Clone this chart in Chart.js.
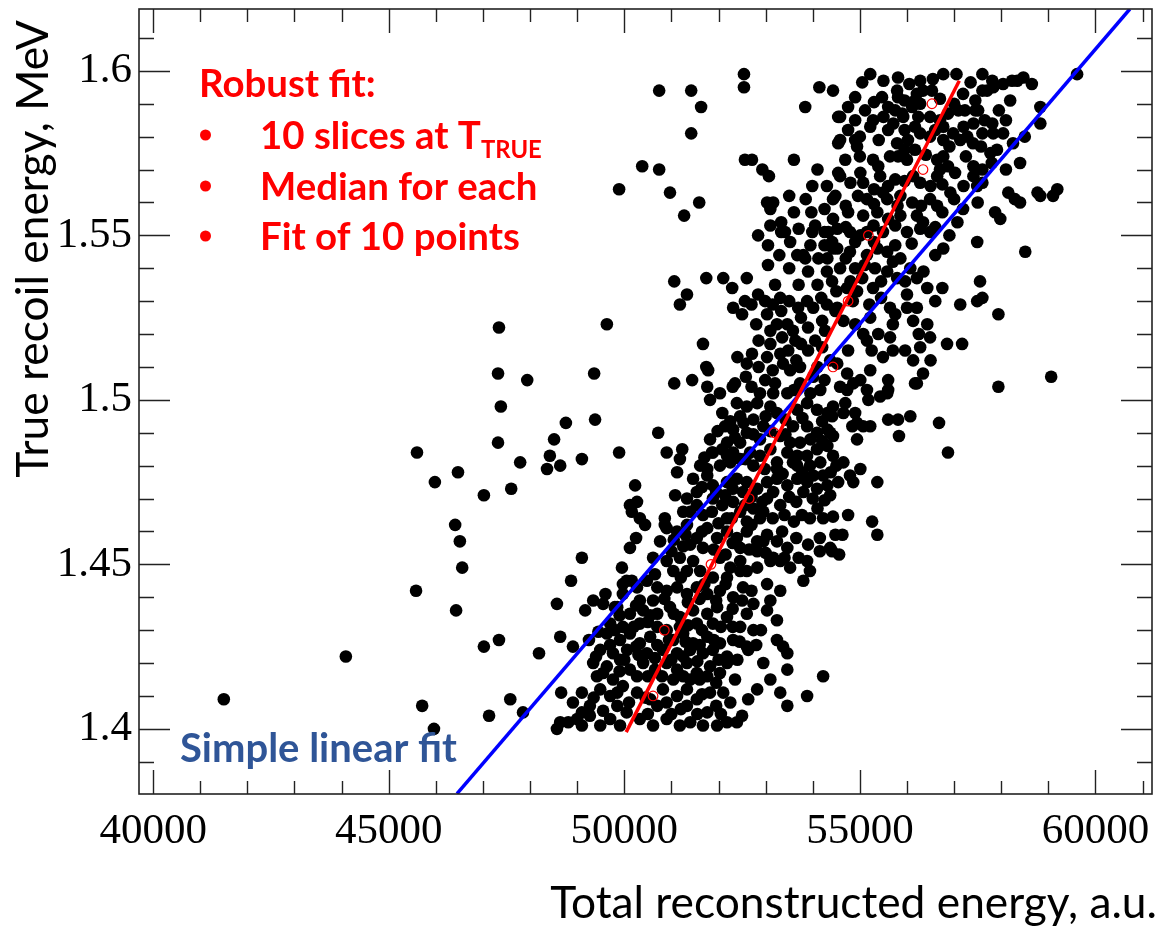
<!DOCTYPE html>
<html lang="en">
<head>
    <meta charset="UTF-8">
    <title>Robust fit vs simple linear fit</title>
    <script src="https://cdn.jsdelivr.net/npm/chart.js"></script>
    <style>
        body { margin: 0; background: #fff; }
        .chart-container { width: 1166px; height: 932px; position: relative; }
    </style>
</head>
<body>
    <div class="chart-container">
        <canvas id="fitChart"></canvas>
    </div>

    <script>
        // Axis ticks (labelled values)
        const xTickValues = [40000, 45000, 50000, 55000, 60000];
        const yTickValues = [1.4, 1.45, 1.5, 1.55, 1.6];

        // Fit lines: [x, y] end points
        const simpleFitX = [46450, 60730];
        const simpleFitY = [1.3803, 1.6188];
        const robustFitX = [50040, 57110];
        const robustFitY = [1.399, 1.597];

        // Medians of the 10 T_TRUE slices
        const medianX = [50610, 50850, 51840, 52650, 53180, 54430, 54750, 55180, 56340, 56530];
        const medianY = [1.41, 1.43, 1.45, 1.47, 1.49, 1.51, 1.53, 1.55, 1.57, 1.59];

        // Events [reconstructed energy, true recoil energy]
        const outlierEvents = [
            [47340,1.522],[47320,1.508],[47940,1.506],[47380,1.498],[47320,1.487],[45600,1.484],[45980,1.475],[46470,1.478],
            [47020,1.471],[47600,1.473],[47790,1.481],[48510,1.488],[48420,1.483],[48360,1.479],[48640,1.480],[46410,1.462],
            [46510,1.457],[46560,1.449],[45580,1.442],[46430,1.436],[44090,1.422],[47020,1.425],[47340,1.427],[48190,1.423],
            [48570,1.438],[48640,1.428],[41500,1.409],[45710,1.407],[45960,1.400],[47130,1.404],[47580,1.409],[47850,1.405],
            [48570,1.400],[48660,1.411],[48760,1.493],[49380,1.494],[49100,1.482],[49890,1.484],[50720,1.490],[48870,1.445],
            [49340,1.439],[49170,1.436],[49800,1.437],[48910,1.425],[49250,1.427],[49100,1.411],[48910,1.408],[48810,1.402],
            [49100,1.401],[49950,1.449],[49970,1.444],[50160,1.445],[50120,1.455],[50250,1.458],[50760,1.457],[50230,1.474],
            [51080,1.471],[50120,1.468],[50270,1.469],[50160,1.466],[50330,1.464],[50440,1.462],[50860,1.464],[50860,1.462],
            [50900,1.484],[51230,1.485],[51180,1.482],[51120,1.478],[51860,1.484],[49100,1.452]
        ];
        const upperLeftEvents = [
            [50740,1.594],[51420,1.594],[52540,1.599],[52540,1.595],[51630,1.589],[51420,1.581],[54140,1.595],[54430,1.594],
            [53840,1.589],[54540,1.586],[54540,1.578],[52560,1.573],[52710,1.573],[50380,1.571],[50740,1.570],[49890,1.564],
            [50970,1.563],[51590,1.560],[51270,1.556],[52930,1.570],[53070,1.568],[53990,1.565],[54540,1.569],[54430,1.561],
            [53030,1.560],[53160,1.560],[53100,1.558],[53970,1.557],[53330,1.554],[54430,1.555],[54050,1.553],[53990,1.551],
            [52840,1.550],[53330,1.551],[53410,1.551],[53520,1.548],[54330,1.551],[54410,1.548],[54430,1.546],[53290,1.544],
            [53670,1.544],[53800,1.544],[53840,1.543],[54120,1.543],[54310,1.543],[51060,1.536],[51740,1.537],[52100,1.537],
            [52290,1.534],[51330,1.532],[51180,1.529],[54410,1.536],[54500,1.533],[52840,1.532],[52560,1.530],[52310,1.528],
            [52500,1.526],[52990,1.530],[53310,1.531],[53330,1.527],[53690,1.528],[53880,1.530],[54010,1.528],[54180,1.531],
            [53030,1.526],[53240,1.523],[53460,1.523],[53580,1.521],[53900,1.522],[54050,1.518],[49630,1.523],[51670,1.517],
            [52710,1.514],[53100,1.517],[53030,1.513],[53310,1.514],[53480,1.515],[53750,1.517],[52600,1.511],[51740,1.510],
            [51780,1.509],[49360,1.508],[51060,1.505],[51440,1.506],[51760,1.504],[52580,1.507],[52990,1.506],[53370,1.511],
            [53520,1.509],[53730,1.510],[54010,1.507],[53160,1.502],[53460,1.502],[53730,1.505],[54160,1.503],[54370,1.512],
            [54260,1.521],[54480,1.527],[53630,1.518],[52880,1.502],[52030,1.502],[52350,1.505]
        ];
        const upperRightEvents = [
            [55220,1.599],[55810,1.598],[56280,1.597],[56770,1.599],[57050,1.599],[57600,1.599],[57810,1.597],[58040,1.596],
            [58230,1.597],[58470,1.598],[58340,1.597],[59610,1.599],[55470,1.592],[55790,1.594],[55810,1.592],[56210,1.593],
            [56340,1.594],[56530,1.594],[57190,1.593],[57600,1.594],[57700,1.594],[57830,1.595],[58190,1.591],[54750,1.589],
            [55110,1.588],[55600,1.589],[56170,1.591],[56110,1.589],[56280,1.590],[58830,1.589],[54580,1.586],[55280,1.585],
            [55900,1.587],[55920,1.586],[56240,1.586],[56490,1.586],[56870,1.587],[57090,1.588],[57230,1.588],[57450,1.591],
            [57510,1.588],[57810,1.584],[57410,1.584],[54750,1.582],[55220,1.583],[55600,1.582],[55710,1.584],[56170,1.583],
            [56280,1.581],[56770,1.583],[56980,1.581],[57130,1.579],[57280,1.580],[57600,1.581],[57830,1.581],[58040,1.581],
            [58830,1.584],[54580,1.579],[54900,1.579],[54940,1.577],[55790,1.578],[56020,1.579],[56170,1.576],[56490,1.580],
            [56770,1.579],[57570,1.577],[57910,1.576],[57770,1.575],[58250,1.578],[54690,1.573],[55280,1.573],[55390,1.571],
            [55640,1.574],[55810,1.574],[56000,1.573],[56640,1.573],[56770,1.574],[56870,1.571],[56700,1.570],[57020,1.569],
            [57410,1.571],[57600,1.570],[58400,1.572],[54580,1.568],[55010,1.569],[55070,1.566],[55430,1.568],[55750,1.567],
            [56130,1.568],[56640,1.568],[56920,1.563],[56280,1.566],[54480,1.562],[54960,1.562],[55150,1.561],[55490,1.563],
            [55580,1.561],[55860,1.562],[56110,1.560],[56490,1.561],[57410,1.568],[57600,1.566],[57490,1.565],[58150,1.563],
            [58290,1.561],[58400,1.560],[58770,1.563],[58830,1.562],[59190,1.564],[59100,1.562],[54750,1.557],[55070,1.556],
            [55370,1.557],[55600,1.555],[55860,1.556],[56210,1.556],[56340,1.554],[56640,1.559],[56750,1.557],[57190,1.558],
            [57070,1.554],[57870,1.557],[57980,1.555],[54520,1.552],[54790,1.551],[55010,1.550],[55290,1.553],[55490,1.551],
            [56000,1.551],[56280,1.552],[56490,1.551],[57490,1.548],[58510,1.545],[56770,1.546],[54520,1.546],[54790,1.545],
            [55150,1.544],[55370,1.546],[55580,1.545],[55860,1.543],[56070,1.540],[54580,1.540],[54900,1.540],[55320,1.540],
            [55580,1.539],[55790,1.537],[55960,1.536],[56210,1.537],[56430,1.534],[56750,1.534],[57550,1.536],[57600,1.531],
            [57490,1.530],[57130,1.529],[57940,1.526],[54730,1.534],[55050,1.537],[54940,1.533],[55280,1.534],[55640,1.528],
            [55750,1.526],[56000,1.528],[56130,1.524],[56210,1.528],[56430,1.523],[56850,1.517],[57170,1.517],[56490,1.519],
            [54520,1.528],[54650,1.524],[55220,1.525],[55070,1.520],[55150,1.518],[55390,1.520],[55640,1.519],[54750,1.515],
            [55490,1.513],[55960,1.515],[56130,1.512],[56280,1.516],[56340,1.508],[56170,1.505],[55600,1.506],[55220,1.509],
            [55010,1.506],[54730,1.508],[54520,1.511],[57940,1.504],[59060,1.507],[54580,1.504],[55150,1.503],[55580,1.502]
        ];
        const middleEvents = [
            [54730,1.503],[54860,1.505],[55180,1.500],[55430,1.501],[55600,1.503],[56210,1.505],[54690,1.499],[54650,1.496],
            [54900,1.496],[54940,1.493],[54840,1.492],[55070,1.492],[55220,1.492],[54940,1.488],[54410,1.495],[54370,1.490],
            [55600,1.494],[55810,1.494],[56070,1.495],[55830,1.489],[56680,1.493],[56870,1.484],[54430,1.483],[54650,1.481],
            [55010,1.479],[54790,1.477],[54860,1.475],[54540,1.475],[54370,1.471],[55370,1.475],[54750,1.465],[55260,1.463],
            [54480,1.459],[54630,1.459],[55370,1.459],[54410,1.454],[54560,1.453]
        ];
        const lowerEvents = [
            [51820,1.500],[52390,1.499],[52600,1.498],[52820,1.499],[53100,1.498],[53240,1.496],[53670,1.497],[53880,1.499],
            [54090,1.497],[54310,1.496],[54430,1.498],[52080,1.496],[52460,1.495],[52740,1.494],[52950,1.492],[52140,1.492],
            [52310,1.491],[52180,1.487],[52600,1.490],[52460,1.487],[52880,1.488],[53580,1.492],[53880,1.492],[54090,1.490],
            [54310,1.491],[54430,1.489],[53310,1.489],[53520,1.487],[53730,1.487],[51820,1.488],[51880,1.484],[52080,1.485],
            [52310,1.484],[52460,1.482],[52670,1.484],[52880,1.483],[53100,1.485],[53240,1.481],[53460,1.484],[53670,1.483],
            [53880,1.483],[54090,1.485],[54310,1.486],[54500,1.480],[54160,1.481],[53940,1.480],[53670,1.480],[53240,1.479],
            [52740,1.480],[52250,1.481],[52030,1.480],[51760,1.479],[51610,1.480],[51460,1.476],[51760,1.477],[51880,1.474],
            [52180,1.475],[52390,1.476],[52600,1.475],[52820,1.473],[53030,1.475],[53240,1.476],[53460,1.474],[53670,1.476],
            [53880,1.475],[54090,1.473],[54310,1.474],[54220,1.477],[51540,1.472],[52140,1.471],[52520,1.472],[53160,1.472],
            [53800,1.472],[53030,1.470],[53310,1.468],[51330,1.470],[51540,1.468],[51250,1.466],[51670,1.465],[51880,1.470],
            [52080,1.468],[52310,1.469],[52460,1.466],[52740,1.467],[52180,1.464],[52600,1.463],[52880,1.464],[53770,1.465],
            [53940,1.464],[54220,1.464],[54370,1.455],[50900,1.461],[51120,1.460],[51330,1.462],[51540,1.458],[51760,1.461],
            [51970,1.458],[52180,1.460],[52390,1.458],[52600,1.460],[52820,1.457],[53030,1.459],[53240,1.457],[53460,1.455],
            [51400,1.456],[51670,1.455],[52460,1.455],[52820,1.454],[53160,1.452],[51180,1.452],[51460,1.451],[52030,1.452],
            [52250,1.449],[52460,1.451],[52600,1.448],[52820,1.449],[53100,1.451],[53310,1.451],[53520,1.449],[53880,1.451],
            [53940,1.448],[53800,1.445],[50900,1.451],[50610,1.452],[51040,1.448],[51330,1.448],[51610,1.448],[51880,1.446],
            [52180,1.446],[52460,1.448],[50480,1.445],[50270,1.443],[50700,1.443],[50900,1.442],[51120,1.443],[51330,1.441],
            [51540,1.443],[51760,1.441],[52030,1.442],[52310,1.440],[52520,1.443],[53030,1.444],[53310,1.442],[53100,1.439],
            [50330,1.439],[50610,1.439],[49970,1.441],[49850,1.437],[50120,1.435],[50400,1.436],[50700,1.435],[50970,1.437],
            [51180,1.434],[51460,1.436],[51760,1.435],[51970,1.437],[52180,1.434],[52600,1.435],[52740,1.438],[53030,1.436],
            [53240,1.433],[49700,1.432],[49970,1.431],[50330,1.432],[50700,1.431],[51180,1.431],[51540,1.432],[51880,1.432],
            [52460,1.431],[52740,1.430],[49630,1.429],[49910,1.427],[50120,1.429],[50330,1.426],[50550,1.428],[51040,1.427],
            [51250,1.429],[51460,1.426],[51760,1.428],[52030,1.426],[52310,1.427],[52600,1.425],[53240,1.427],[53370,1.425],
            [49490,1.424],[49760,1.423],[50060,1.424],[50480,1.423],[50820,1.424],[51120,1.423],[51400,1.424],[51670,1.423],
            [51880,1.424],[52180,1.422],[52630,1.424],[53460,1.423],[49340,1.420],[49630,1.419],[49910,1.421],[50120,1.418],
            [50400,1.420],[50650,1.418],[50900,1.420],[51120,1.418],[51330,1.420],[51540,1.417],[51820,1.419],[52030,1.417],
            [52180,1.420],[53460,1.418],[49420,1.416],[49760,1.415],[50270,1.416],[51040,1.415],[51400,1.415],[51760,1.416],
            [54220,1.416],[52950,1.420],[53100,1.415],[52820,1.412],[49490,1.412],[49700,1.410],[49970,1.413],[50270,1.411],
            [50550,1.409],[50820,1.412],[51120,1.410],[51330,1.412],[51540,1.409],[51820,1.411],[52100,1.411],[52630,1.409],
            [53310,1.411],[53880,1.410],[49270,1.407],[49850,1.407],[50700,1.407],[51330,1.407],[51760,1.405],[48640,1.402],
            [49000,1.403],[49270,1.404],[49490,1.401],[49700,1.403],[49910,1.401],[50330,1.403],[50610,1.401],[50900,1.403],
            [51180,1.401],[51400,1.402],[51670,1.401],[51970,1.401],[52180,1.402],[52390,1.402],[53460,1.407]
        ];
        // Overlapping events inside the solid-looking parts of the core
        const denseCoreEvents = [
            [52250,1.4935],[52530,1.4930],[53000,1.4950],[53420,1.4940],[53780,1.4945],[54200,1.4935],
            [51980,1.4905],[52350,1.4885],[52740,1.4895],[53100,1.4905],[53420,1.4895],[53950,1.4880],[54200,1.4875],
            [51700,1.4825],[52180,1.4830],[52570,1.4820],[52980,1.4790],[53360,1.4775],[53580,1.4810],[53780,1.4780],
            [54010,1.4770],[54380,1.4780],[51650,1.4735],[51950,1.4720],[52300,1.4730],[52700,1.4705],[52930,1.4690],
            [53500,1.4705],[53650,1.4690],[54000,1.4700],[54250,1.4695],[51400,1.4660],[51860,1.4660],[52280,1.4640],
            [52560,1.4680],[52950,1.4660],[53150,1.4640],[53400,1.4650],[53600,1.4630],[54100,1.4670],[54430,1.4645],
            [51050,1.4575],[51300,1.4590],[51650,1.4600],[52000,1.4625],[52300,1.4565],[52700,1.4620],[52950,1.4570],
            [53350,1.4600],[53650,1.4580],[53900,1.4560],[54150,1.4580],[51000,1.4540],[51250,1.4555],[51900,1.4545],
            [52150,1.4530],[52650,1.4545],[53000,1.4535],[53400,1.4520],[53700,1.4520],[54150,1.4540],
            [49600,1.4410],[50050,1.4450],[50650,1.4470],[51200,1.4460],[51700,1.4440],[52150,1.4440],[52700,1.4420],
            [49550,1.4380],[49900,1.4345],[50250,1.4375],[50550,1.4345],[50850,1.4395],[51050,1.4350],[51350,1.4385],
            [51600,1.4395],[51950,1.4390],[52300,1.4365],[52500,1.4390],[49450,1.4295],[49800,1.4300],[50200,1.4310],
            [50500,1.4325],[50900,1.4300],[51350,1.4315],[51650,1.4300],[52050,1.4310],[52300,1.4310],[52900,1.4300],
            [49700,1.4255],[50250,1.4250],[50700,1.4255],[50950,1.4270],[51300,1.4265],[51600,1.4255],[51900,1.4270],
            [52450,1.4265],[52800,1.4255],[49400,1.4220],[50000,1.4210],[50300,1.4225],[50650,1.4215],[51000,1.4210],
            [51250,1.4220],[51550,1.4205],[52000,1.4210],[52400,1.4210],[49550,1.4170],[49900,1.4175],[50500,1.4160],
            [50800,1.4160],[51250,1.4160],[51600,1.4150],[51950,1.4140],[52350,1.4150],[49350,1.4095],[49850,1.4110],
            [50100,1.4080],[50450,1.4095],[50900,1.4080],[51200,1.4060],[51650,1.4105],[51950,1.4070],[52250,1.4080],
            [49100,1.4050],[49550,1.4055],[50050,1.4050],[50500,1.4045],[51000,1.4045],[51550,1.4045],[52050,1.4045],
            [52500,1.4040],
            [55050,1.5965],[55500,1.5970],[56050,1.5960],[56550,1.5975],[57350,1.5965],[58650,1.5960],
            [54900,1.5920],[55300,1.5905],[55950,1.5910],[56700,1.5915],[57000,1.5900],[57450,1.5880],[57950,1.5880],
            [54900,1.5850],[55500,1.5860],[55750,1.5880],[56700,1.5850],[57200,1.5830],[57650,1.5850],[58100,1.5850],
            [55000,1.5800],[55400,1.5790],[55950,1.5820],[56600,1.5820],[56900,1.5770],[57400,1.5780],[58500,1.5800],
            [55000,1.5740],[55950,1.5760],[56400,1.5745],[57250,1.5740],[57800,1.5720],[58100,1.5700],
            [54800,1.5660],[55300,1.5640],[55600,1.5650],[55950,1.5665],[56500,1.5650],[56750,1.5655],[57200,1.5650],
            [54700,1.5590],[55300,1.5595],[55800,1.5590],[56300,1.5590],[57000,1.5610],[57500,1.5600],
            [54700,1.5525],[55150,1.5510],[55750,1.5530],[56600,1.5525],[56900,1.5500],
            [54900,1.5480],[55300,1.5480],[55750,1.5470],[56100,1.5475],[56600,1.5440],
            [54700,1.5430],[55100,1.5410],[55700,1.5420],[56350,1.5390],[54800,1.5360],[55450,1.5360],[56000,1.5320],
            [56600,1.5300],[54850,1.5300],[55200,1.5290],[55450,1.5310],[54900,1.5230],[55700,1.5230],[56250,1.5200],
            [55250,1.5150],[55700,1.5150],[56500,1.5120],
            [53600,1.5730],[54100,1.5700],[54300,1.5650],[53500,1.5620],[53850,1.5610],[54250,1.5580],[53600,1.5570],
            [53100,1.5530],[53700,1.5520],[54250,1.5510],[53050,1.5470],[53950,1.5470],[54250,1.5470],
            [53050,1.5410],[53500,1.5400],[53900,1.5390],[54300,1.5390],[52600,1.5370],[53200,1.5350],[53700,1.5350],
            [54100,1.5350],[52700,1.5290],[53150,1.5290],[53500,1.5300],[54300,1.5290],[52800,1.5230],[53100,1.5210],
            [53750,1.5250],[54200,1.5240],[52850,1.5180],[53350,1.5190],[53900,1.5150],[54200,1.5160],[52400,1.5130],
            [52850,1.5100],[53150,1.5090],[53650,1.5120],[54100,1.5100],[52300,1.5040],[52700,1.5040],[53200,1.5050],
            [53600,1.5030],[53950,1.5020],[54250,1.5060]
        ];

        const events = [...outlierEvents, ...upperLeftEvents, ...upperRightEvents, ...middleEvents, ...lowerEvents, ...denseCoreEvents]
            .map(p => ({ x: p[0], y: p[1] }));
        const toPoints = (xs, ys) => xs.map((x, i) => ({ x: x, y: ys[i] }));

        // ROOT-like frame with inward ticks on all four sides
        const frameTicks = {
            id: 'frameTicks',
            afterDatasetsDraw(chart) {
                const { ctx, chartArea: a, scales: { x, y } } = chart;
                ctx.save();
                ctx.strokeStyle = '#222';
                ctx.lineWidth = 1.4;
                ctx.beginPath();
                for (let v = 40000; v <= 61000; v += 1000) {
                    const px = Math.round(x.getPixelForValue(v)) + 0.5;
                    const len = v % 5000 === 0 ? 24 : 13;
                    ctx.moveTo(px, a.bottom); ctx.lineTo(px, a.bottom - len);
                    ctx.moveTo(px, a.top); ctx.lineTo(px, a.top + len);
                }
                for (let i = 139; i <= 161; i++) {
                    const py = Math.round(y.getPixelForValue(i / 100)) + 0.5;
                    const len = i % 5 === 0 ? 31 : 15;
                    ctx.moveTo(a.left, py); ctx.lineTo(a.left + len, py);
                    ctx.moveTo(a.right, py); ctx.lineTo(a.right - len, py);
                }
                ctx.stroke();
                ctx.lineWidth = 1.6;
                ctx.strokeRect(a.left, a.top, a.right - a.left, a.bottom - a.top);
                ctx.restore();
            }
        };

        function fitSize(ctx, text, weight, family, width) {
            ctx.font = weight + ' 100px ' + family;
            return 100 * width / ctx.measureText(text).width;
        }

        // Axis titles and slide annotations
        const slideText = {
            id: 'slideText',
            afterDraw(chart) {
                const ctx = chart.ctx;
                const sans = 'Lato, "Open Sans", sans-serif';
                ctx.save();
                ctx.textBaseline = 'alphabetic';

                // x title
                let s = fitSize(ctx, 'Total reconstructed energy, a.u.', 'normal', sans, 607);
                ctx.font = 'normal ' + s + 'px ' + sans;
                ctx.fillStyle = '#000';
                ctx.textAlign = 'right';
                ctx.fillText('Total reconstructed energy, a.u.', 1157, 918);

                // y title
                s = fitSize(ctx, 'True recoil energy, MeV', 'normal', sans, 458);
                ctx.save();
                ctx.translate(48, 249);
                ctx.rotate(-Math.PI / 2);
                ctx.font = 'normal ' + s + 'px ' + sans;
                ctx.textAlign = 'center';
                ctx.fillText('True recoil energy, MeV', 0, 0);
                ctx.restore();

                // robust fit box
                const b = fitSize(ctx, 'Fit of 10 points', 'bold', sans, 260);
                ctx.font = 'bold ' + b + 'px ' + sans;
                ctx.fillStyle = '#ff0000';
                ctx.textAlign = 'left';
                ctx.fillText('Robust fit:', 199, 97);
                ctx.fillText('10 slices at T', 260, 149);
                const w = ctx.measureText('10 slices at T').width;
                ctx.fillText('Median for each', 260, 200);
                ctx.fillText('Fit of 10 points', 260, 250);
                [135, 186, 236].forEach(yy => {
                    ctx.beginPath();
                    ctx.arc(205.5, yy, 5.5, 0, Math.PI * 2);
                    ctx.fill();
                });
                ctx.font = 'bold ' + (b * 0.62) + 'px ' + sans;
                ctx.fillText('TRUE', 260 + w, 158);

                // simple fit label
                s = fitSize(ctx, 'Simple linear fit', 'bold', sans, 277);
                ctx.font = 'bold ' + s + 'px ' + sans;
                ctx.fillStyle = '#2f5597';
                ctx.fillText('Simple linear fit', 180, 762);
                ctx.restore();
            }
        };

        const tickFont = { family: '"Liberation Serif", "Times New Roman", serif', size: 43 };

        new Chart(document.getElementById('fitChart'), {
            type: 'scatter',
            data: {
                datasets: [
                    {
                        label: 'Events',
                        data: events,
                        pointRadius: 6.3,
                        pointBackgroundColor: '#000',
                        pointBorderWidth: 0,
                        order: 3
                    },
                    {
                        label: 'Simple linear fit',
                        data: toPoints(simpleFitX, simpleFitY),
                        showLine: true,
                        borderColor: '#0000ff',
                        borderWidth: 3.5,
                        pointRadius: 0,
                        order: 2
                    },
                    {
                        label: 'Robust fit',
                        data: toPoints(robustFitX, robustFitY),
                        showLine: true,
                        borderColor: '#ff0000',
                        borderWidth: 3.5,
                        pointRadius: 0,
                        order: 1
                    },
                    {
                        label: 'Slice medians',
                        data: toPoints(medianX, medianY),
                        pointRadius: 4.8,
                        pointBackgroundColor: 'rgba(0,0,0,0)',
                        pointBorderColor: '#ff0000',
                        pointBorderWidth: 1.2,
                        order: 0
                    }
                ]
            },
            options: {
                responsive: true,
                maintainAspectRatio: false,
                animation: false,
                events: [],
                layout: { padding: { left: 0, right: 14, top: 9, bottom: 0 } },
                plugins: { legend: { display: false }, tooltip: { enabled: false } },
                scales: {
                    x: {
                        type: 'linear',
                        min: 39700,
                        max: 61200,
                        grid: { display: false, drawTicks: false },
                        border: { display: false },
                        afterBuildTicks: s => { s.ticks = xTickValues.map(v => ({ value: v })); },
                        afterFit: s => { s.height = 138; s.paddingLeft = 0; s.paddingRight = 0; },
                        ticks: {
                            font: tickFont,
                            color: '#000',
                            padding: 12,
                            autoSkip: false,
                            maxRotation: 0,
                            callback: v => String(v)
                        }
                    },
                    y: {
                        type: 'linear',
                        min: 1.3802,
                        max: 1.6188,
                        grid: { display: false, drawTicks: false },
                        border: { display: false },
                        afterBuildTicks: s => { s.ticks = yTickValues.map(v => ({ value: v })); },
                        afterFit: s => { s.width = 139; s.paddingTop = 0; s.paddingBottom = 0; },
                        ticks: {
                            font: tickFont,
                            color: '#000',
                            padding: 7,
                            callback: v => String(v)
                        }
                    }
                }
            },
            plugins: [frameTicks, slideText]
        });
    </script>
</body>
</html>
